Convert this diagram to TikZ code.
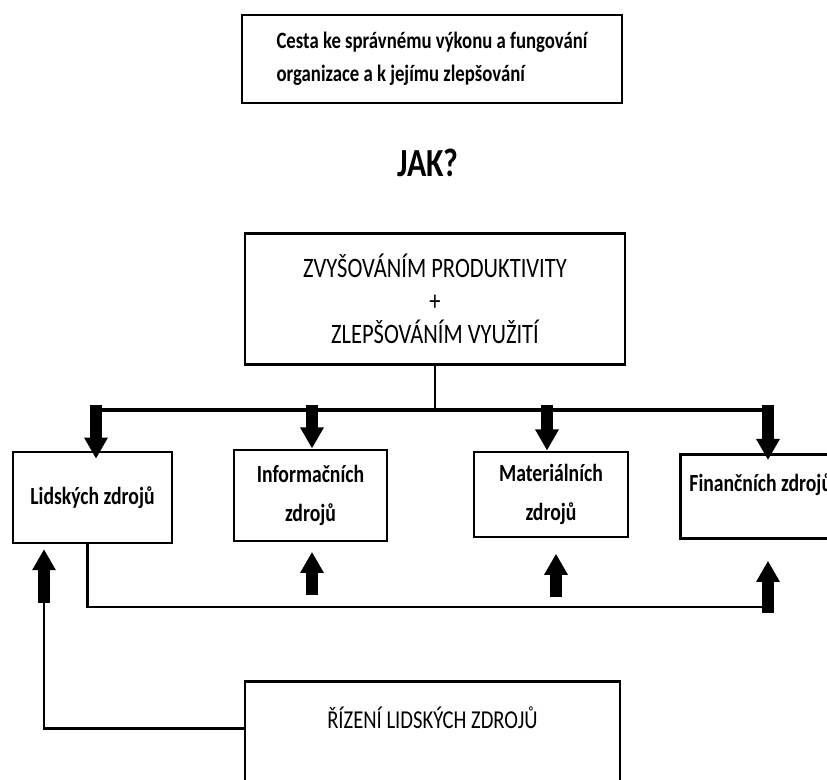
\documentclass[tikz,border=0pt]{standalone}
\usepackage{fontspec}
\setmainfont{Carlito}[FakeStretch=0.8]
\usetikzlibrary{arrows.meta}

\begin{document}
\begin{tikzpicture}[
    x=0.03cm, y=-0.03cm,
    box/.style={draw, line width=2.5pt, inner sep=0pt},
    thinline/.style={line width=2.5pt},
    busline/.style={line width=3.4pt},
    blkarrow/.style={line width=9.4pt, -{Triangle[width=19pt, length=18pt]}},
    lowtext/.style={font=\fontsize{21}{33}\selectfont\bfseries, align=center}
]

\useasboundingbox (0,0) rectangle (827,780);
\clip (0,0) rectangle (827,780);

% ---------------- HORNI CAST ----------------

\node[
    box,
    minimum width=11.4cm,
    minimum height=2.64cm,
    align=left,
    font=\fontsize{20}{28}\selectfont\bfseries
] (cesta) at (432,59)
    {Cesta ke správnému výkonu a fungování\\organizace a k jejímu zlepšování};

\node[font=\fontsize{34}{40}\selectfont\bfseries] (jak) at (428,163) {JAK?};

\node[
    box,
    minimum width=11.4cm,
    minimum height=3.93cm,
    align=center,
    font=\fontsize{24}{28}\selectfont
] (zvys) at (435,299)
    {ZVYŠOVÁNÍM PRODUKTIVITY\\+\\ZLEPŠOVÁNÍM VYUŽITÍ};


% ---------------- ZDROJE ----------------

\node[box, lowtext, minimum width=4.77cm, minimum height=2.73cm]
    (lidske) at (92.5,497.5) {Lidských zdrojů};

\node[box, lowtext, minimum width=4.59cm, minimum height=2.73cm]
    (info) at (310.5,495.5) {Informačních\\zdrojů};

\node[box, lowtext, minimum width=4.62cm, minimum height=2.55cm]
    (mater) at (551,494.5) {Materiálních\\zdrojů};

\node[
    box,
    lowtext,
    anchor=north west,
    align=flush left,
    text width=6cm,
    inner xsep=7.7pt,
    text height=31.5pt,
    text depth=40pt
] (financ) at (679,453) {Finančních zdrojů};

\node[
    box,
    anchor=north,
    minimum width=11.25cm,
    text height=40pt,
    text depth=63pt,
    font=\fontsize{22}{28}\selectfont
] (rizeni) at (432.5,680) {ŘÍZENÍ LIDSKÝCH ZDROJŮ};


% ---------------- SPOJENI ----------------

\coordinate (busL) at (96,410);
\coordinate (busR) at (768,410);

\draw[busline] (busL) -- (busR);
\draw[thinline] (zvys.south) -- (zvys.south |- busL);

% dolu
\draw[blkarrow, shorten <=-4pt, shorten >=-7pt] (busL) -- (busL |- lidske.north);
\draw[blkarrow, shorten <=-4pt] (312,410) -- (info.north -| 312,0);
\draw[blkarrow, shorten <=-4pt] (547,410) -- (mater.north -| 547,0);
\draw[blkarrow, shorten <=-4pt, shorten >=-6pt] (busR) -- (busR |- financ.north);

% zpetna vazba
\coordinate (loopR) at (768,607);
\draw[thinline] ([xshift=-4pt]lidske.south) |- (loopR);

\coordinate (infoB) at (312,595);
\coordinate (materB) at (556,597);
\draw[blkarrow, shorten >=8pt] (infoB) -- (infoB |- info.south);
\draw[blkarrow, shorten >=13pt] (materB) -- (materB |- mater.south);
\draw[blkarrow, shorten <=-5pt, shorten >=18pt] (loopR) -- (loopR |- financ.south);

% rizeni
\coordinate (hrB) at (44,603);
\draw[thinline] (rizeni.base west) -| (hrB);
\draw[blkarrow, shorten >=4pt] (hrB) -- (hrB |- lidske.south);

\end{tikzpicture}
\end{document}
